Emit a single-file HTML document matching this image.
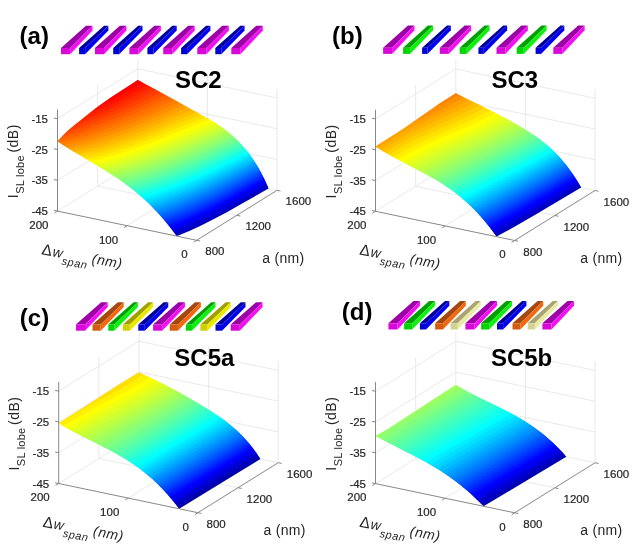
<!DOCTYPE html>
<html><head><meta charset="utf-8"><title>Sidelobe intensity surfaces</title>
<style>html,body{margin:0;padding:0;background:#fff;}svg{display:block;font-family:"Liberation Sans",Arial,sans-serif;}</style>
</head><body>
<svg width="639" height="552" viewBox="0 0 639 552">
<rect width="639" height="552" fill="#fff"/>
<line x1="57.50" y1="211.10" x2="137.80" y2="161.10" stroke="#e3e3e3" stroke-width="0.80"/>
<line x1="57.50" y1="180.32" x2="137.80" y2="130.32" stroke="#e3e3e3" stroke-width="0.80"/>
<line x1="57.50" y1="149.54" x2="137.80" y2="99.54" stroke="#e3e3e3" stroke-width="0.80"/>
<line x1="57.50" y1="118.76" x2="137.80" y2="68.76" stroke="#e3e3e3" stroke-width="0.80"/>
<line x1="97.65" y1="186.10" x2="97.65" y2="84.53" stroke="#e3e3e3" stroke-width="0.80"/>
<line x1="137.80" y1="161.10" x2="137.80" y2="59.53" stroke="#e3e3e3" stroke-width="0.80"/>
<line x1="137.80" y1="161.10" x2="277.00" y2="190.30" stroke="#e3e3e3" stroke-width="0.80"/>
<line x1="137.80" y1="130.32" x2="277.00" y2="159.52" stroke="#e3e3e3" stroke-width="0.80"/>
<line x1="137.80" y1="99.54" x2="277.00" y2="128.74" stroke="#e3e3e3" stroke-width="0.80"/>
<line x1="137.80" y1="68.76" x2="277.00" y2="97.96" stroke="#e3e3e3" stroke-width="0.80"/>
<line x1="207.40" y1="175.70" x2="207.40" y2="74.13" stroke="#e3e3e3" stroke-width="0.80"/>
<line x1="277.00" y1="190.30" x2="277.00" y2="88.73" stroke="#e3e3e3" stroke-width="0.80"/>
<line x1="127.10" y1="225.70" x2="207.40" y2="175.70" stroke="#e3e3e3" stroke-width="0.80"/>
<line x1="97.65" y1="186.10" x2="236.85" y2="215.30" stroke="#e3e3e3" stroke-width="0.80"/>
<path d="M177.1,236.0 176.8,236.1 175.0,233.7 184.4,230.0 193.2,226.1 202.6,221.8 212.0,217.1 232.8,205.9 267.5,186.2 268.5,188.5 242.1,203.6 227.3,212.0 212.9,219.6 200.2,226.0 188.7,231.3 177.1,236.0Z" fill="#0000af"/>
<path d="M176.2,235.3 173.7,231.9 182.6,228.4 192.0,224.4 201.5,220.0 211.3,215.2 221.5,209.8 233.1,203.6 266.8,184.6 268.2,187.9 235.2,206.7 216.9,216.8 201.8,224.4 194.2,228.0 186.7,231.3 176.3,235.5 176.2,235.3Z" fill="#0000bf"/>
<path d="M175.5,233.5 175.0,233.7 172.3,230.1 181.3,226.6 190.8,222.6 200.4,218.3 210.3,213.4 220.5,208.1 231.7,202.1 266.0,182.9 267.5,186.2 237.0,203.6 218.3,213.8 203.1,221.5 189.1,228.0 175.5,233.5Z" fill="#0000cf"/>
<path d="M173.9,231.8 173.7,231.9 170.9,228.3 180.0,224.8 189.1,221.1 199.0,216.6 209.4,211.6 219.9,206.2 230.8,200.4 265.3,181.2 266.8,184.6 234.2,203.0 216.7,212.4 201.5,220.0 187.4,226.4 173.9,231.8Z" fill="#0000df"/>
<path d="M172.4,230.0 172.3,230.1 169.5,226.5 179.0,222.9 188.5,219.0 198.5,214.6 208.6,209.7 219.0,204.4 231.2,198.0 264.5,179.6 266.0,182.9 232.2,201.9 215.1,211.0 199.9,218.5 186.1,224.6 172.4,230.0Z" fill="#0000ef"/>
<path d="M171.0,228.2 170.9,228.3 168.0,224.7 177.5,221.2 187.1,217.3 196.9,213.0 207.6,207.9 217.6,202.8 229.6,196.5 263.7,177.9 265.3,181.2 231.2,200.2 214.3,209.1 199.0,216.6 184.6,223.0 171.0,228.2Z" fill="#0000ff"/>
<path d="M169.7,226.4 169.5,226.5 166.6,222.8 175.9,219.4 185.3,215.7 195.2,211.4 205.5,206.6 216.8,201.0 228.3,195.0 262.8,176.2 264.5,179.6 230.3,198.4 213.0,207.5 197.6,215.0 183.6,221.1 169.7,226.4Z" fill="#0010ff"/>
<path d="M168.4,224.5 168.0,224.7 165.0,221.0 175.0,217.4 185.0,213.5 194.4,209.4 204.9,204.6 215.8,199.2 227.2,193.3 262.0,174.5 263.7,177.9 229.6,196.5 212.4,205.5 196.4,213.2 182.3,219.3 168.4,224.5Z" fill="#0020ff"/>
<path d="M166.4,222.7 163.5,219.2 173.6,215.6 183.6,211.7 193.9,207.3 204.6,202.4 215.6,197.0 226.3,191.4 261.1,172.8 262.8,176.2 228.3,195.0 216.4,201.2 205.3,206.7 194.2,211.9 183.8,216.3 171.9,220.9 166.6,222.8 166.4,222.7Z" fill="#0030ff"/>
<path d="M165.0,221.0 161.9,217.3 172.1,213.8 182.2,209.9 192.3,205.6 202.6,201.0 213.0,195.9 225.5,189.5 260.2,171.1 262.0,174.5 227.2,193.3 215.8,199.2 204.9,204.6 194.4,209.4 185.0,213.5 174.9,217.5 165.0,221.0Z" fill="#0040ff"/>
<path d="M163.9,219.0 163.5,219.2 160.2,215.4 170.5,211.9 181.1,207.9 190.9,203.8 202.1,198.8 212.8,193.6 224.9,187.6 259.2,169.4 261.1,172.8 226.3,191.4 215.6,197.0 204.6,202.4 193.9,207.3 183.6,211.7 173.7,215.6 163.9,219.0Z" fill="#0050ff"/>
<path d="M161.9,217.3 158.6,213.6 169.4,209.9 179.8,206.0 190.0,201.8 200.9,196.9 210.7,192.3 222.4,186.4 258.3,167.6 260.2,171.1 225.5,189.5 213.0,195.9 202.6,201.0 192.3,205.6 182.2,209.9 172.1,213.8 161.9,217.3Z" fill="#0060ff"/>
<path d="M160.2,215.4 156.8,211.7 167.5,208.1 177.8,204.3 188.4,200.0 199.5,195.2 210.6,189.9 222.5,184.0 257.3,165.9 259.2,169.4 223.0,188.5 211.3,194.4 201.1,199.3 190.4,204.1 179.6,208.5 168.1,212.8 160.2,215.4 160.2,215.4Z" fill="#0070ff"/>
<path d="M159.1,213.4 158.6,213.6 155.0,209.8 165.6,206.3 176.6,202.3 187.4,198.0 198.2,193.3 209.3,188.1 220.3,182.7 256.2,164.2 258.3,167.6 222.4,186.4 210.7,192.3 200.9,196.9 190.5,201.6 180.0,205.9 169.5,209.9 159.1,213.4Z" fill="#0080ff"/>
<path d="M157.4,211.5 156.8,211.7 153.2,207.9 163.9,204.4 175.0,200.4 186.0,196.1 196.9,191.3 207.9,186.3 219.0,180.9 255.1,162.4 257.3,165.9 222.5,184.0 210.6,189.9 199.5,195.2 188.5,200.0 178.2,204.2 167.9,208.0 157.4,211.5Z" fill="#008fff"/>
<path d="M154.9,209.7 151.3,206.0 162.3,202.5 173.2,198.6 184.4,194.2 194.9,189.7 205.0,185.2 217.1,179.4 254.0,160.7 256.2,164.2 220.3,182.7 208.8,188.3 197.9,193.4 186.5,198.4 175.5,202.7 163.1,207.2 155.0,209.8 154.9,209.7Z" fill="#009fff"/>
<path d="M153.2,207.9 149.4,204.1 160.8,200.4 171.5,196.7 182.5,192.4 193.8,187.7 204.0,183.1 216.2,177.3 252.8,158.9 255.1,162.4 219.0,180.9 207.9,186.3 196.9,191.3 186.0,196.1 175.0,200.4 163.9,204.4 153.2,207.9Z" fill="#00afff"/>
<path d="M151.7,205.9 151.3,206.0 147.3,202.1 158.8,198.5 170.0,194.7 180.8,190.5 191.9,185.9 203.4,180.8 214.9,175.4 251.6,157.2 254.0,160.7 218.1,178.9 206.5,184.5 195.4,189.5 184.4,194.2 173.2,198.6 162.6,202.4 151.7,205.9Z" fill="#00bfff"/>
<path d="M149.4,204.1 145.3,200.2 157.1,196.5 168.3,192.7 179.2,188.6 190.5,183.9 201.3,179.2 214.1,173.2 250.3,155.4 252.8,158.9 216.2,177.3 204.0,183.1 193.8,187.7 182.5,192.4 171.5,196.7 160.8,200.4 149.4,204.1Z" fill="#00cfff"/>
<path d="M147.3,202.1 143.1,198.2 154.8,194.6 166.2,190.8 177.8,186.5 188.7,182.0 199.2,177.5 211.8,171.7 249.0,153.6 251.6,157.2 214.9,175.4 203.4,180.8 191.9,185.9 180.4,190.7 169.1,195.0 157.4,199.0 147.3,202.1Z" fill="#00dfff"/>
<path d="M145.2,200.1 140.9,196.2 153.0,192.5 164.3,188.8 175.4,184.7 187.1,180.1 197.6,175.5 209.7,170.0 247.6,151.8 250.3,155.4 213.1,173.6 201.1,179.2 190.1,184.1 178.6,188.8 167.2,193.1 155.0,197.2 145.2,200.1Z" fill="#00efff"/>
<path d="M143.1,198.2 138.5,194.2 150.4,190.7 162.2,186.8 174.4,182.4 185.9,177.8 196.2,173.4 208.1,168.0 246.1,149.9 249.0,153.6 211.8,171.7 199.2,177.5 188.7,182.0 177.8,186.5 166.2,190.8 154.8,194.6 143.1,198.2Z" fill="#00ffff"/>
<path d="M141.3,196.1 140.9,196.2 136.1,192.2 148.7,188.5 160.3,184.7 172.3,180.4 183.6,176.0 195.1,171.2 206.6,166.0 244.5,148.1 247.6,151.8 209.7,170.0 197.8,175.4 187.4,179.9 175.4,184.7 164.3,188.8 153.0,192.5 141.3,196.1Z" fill="#10ffef"/>
<path d="M138.6,194.2 133.6,190.2 146.1,186.5 157.6,182.8 169.5,178.6 181.9,173.9 192.7,169.4 205.4,163.8 242.9,146.3 246.1,149.9 208.1,168.0 196.2,173.4 185.9,177.8 174.4,182.4 162.2,186.8 150.4,190.7 138.6,194.2Z" fill="#20ffdf"/>
<path d="M136.2,192.2 131.0,188.1 143.8,184.4 155.2,180.8 167.7,176.4 179.9,171.8 190.7,167.3 203.2,161.9 241.2,144.4 244.5,148.1 206.6,166.0 195.1,171.2 183.6,176.0 172.3,180.4 160.3,184.7 148.7,188.5 136.2,192.2Z" fill="#30ffcf"/>
<path d="M133.9,190.1 133.6,190.2 128.3,186.0 141.1,182.4 153.2,178.6 165.5,174.3 178.4,169.5 189.1,165.1 201.2,159.9 239.5,142.5 242.9,146.3 205.4,163.8 192.7,169.4 181.9,173.9 169.5,178.6 157.6,182.8 146.1,186.5 133.9,190.1Z" fill="#40ffbf"/>
<path d="M131.7,187.9 131.0,188.1 125.4,183.9 138.4,180.3 150.6,176.5 163.3,172.1 176.0,167.4 187.5,162.8 199.5,157.7 237.6,140.6 241.2,144.4 203.2,161.9 191.0,167.3 180.2,171.7 167.9,176.4 156.2,180.5 143.8,184.4 131.7,187.9Z" fill="#50ffaf"/>
<path d="M128.8,185.9 128.3,186.0 122.5,181.8 134.9,178.3 147.2,174.6 160.4,170.1 173.9,165.2 185.0,160.8 196.9,155.8 235.6,138.7 239.5,142.5 201.2,159.9 189.1,165.1 178.4,169.5 166.5,174.0 153.9,178.3 141.8,182.2 128.8,185.9Z" fill="#60ff9f"/>
<path d="M126.1,183.7 125.4,183.9 119.4,179.6 131.9,176.2 144.2,172.5 157.7,168.0 171.0,163.1 181.8,158.9 193.3,154.2 233.5,136.7 237.6,140.6 199.5,157.7 187.5,162.8 176.0,167.4 163.3,172.1 150.9,176.4 138.8,180.1 126.1,183.7Z" fill="#70ff8f"/>
<path d="M122.7,181.7 122.5,181.8 116.2,177.4 128.8,174.0 140.6,170.5 154.2,166.0 168.3,161.0 179.4,156.7 191.5,151.8 231.2,134.7 235.6,138.7 196.9,155.8 185.0,160.8 173.9,165.2 160.6,170.0 147.8,174.4 135.5,178.2 122.7,181.7Z" fill="#80ff80"/>
<path d="M119.5,179.6 119.4,179.6 112.8,175.2 124.8,172.0 136.7,168.5 150.4,164.0 165.1,158.8 175.8,154.8 187.6,150.1 228.8,132.7 233.5,136.7 193.3,154.2 181.8,158.9 171.0,163.1 157.7,168.0 144.2,172.5 131.9,176.2 119.5,179.6Z" fill="#8fff70"/>
<path d="M116.5,177.3 116.2,177.4 109.3,172.9 121.5,169.8 132.8,166.5 146.6,162.0 161.5,156.8 172.4,152.8 184.2,148.1 226.2,130.6 231.2,134.7 191.5,151.8 179.4,156.7 168.3,161.0 154.2,166.0 140.6,170.5 128.8,174.0 116.5,177.3Z" fill="#9fff60"/>
<path d="M112.9,175.2 105.7,170.7 117.3,167.8 128.1,164.7 141.3,160.4 157.6,154.8 167.9,151.0 179.1,146.6 223.4,128.5 228.8,132.7 187.6,150.1 175.8,154.8 165.1,158.8 150.4,164.0 136.7,168.5 124.8,172.0 112.9,175.2Z" fill="#afff50"/>
<path d="M109.4,172.9 101.9,168.4 113.0,165.7 123.9,162.6 136.6,158.6 152.9,153.0 163.3,149.2 174.0,145.0 220.3,126.4 226.2,130.6 184.2,148.1 172.4,152.8 161.5,156.8 146.6,162.0 132.8,166.5 121.5,169.8 109.4,172.9Z" fill="#bfff40"/>
<path d="M106.1,170.6 105.7,170.7 98.1,166.0 109.3,163.4 119.7,160.5 131.8,156.7 147.5,151.3 158.0,147.5 168.2,143.7 203.1,129.6 217.0,124.1 223.4,128.5 179.1,146.6 167.9,151.0 157.6,154.8 141.9,160.2 128.8,164.5 118.0,167.6 106.1,170.6Z" fill="#cfff30"/>
<path d="M102.2,168.3 101.9,168.4 94.1,163.7 105.5,161.1 116.0,158.3 128.1,154.4 143.8,149.1 161.7,142.4 197.7,127.9 213.4,121.9 220.3,126.4 174.0,145.0 163.3,149.2 152.9,153.0 136.6,158.6 123.9,162.6 113.7,165.5 102.2,168.3Z" fill="#dfff20"/>
<path d="M98.4,166.0 98.1,166.0 90.1,161.4 101.7,158.8 112.2,155.9 123.7,152.3 140.6,146.5 157.4,140.4 193.2,125.8 209.5,119.5 217.0,124.1 203.1,129.6 168.2,143.7 158.6,147.3 148.1,151.1 132.4,156.5 120.3,160.4 110.0,163.2 98.4,166.0Z" fill="#efff10"/>
<path d="M94.7,163.6 94.1,163.7 86.1,159.0 97.8,156.4 108.3,153.6 119.8,150.0 138.0,143.8 154.6,137.6 189.7,123.2 205.3,117.2 213.4,121.9 197.7,127.9 162.3,142.2 144.4,148.8 128.1,154.4 116.0,158.3 105.5,161.1 94.7,163.6Z" fill="#ffff00"/>
<path d="M90.3,161.3 82.1,156.6 93.9,154.1 104.5,151.3 115.9,147.7 135.9,140.8 144.1,137.9 152.4,134.6 186.1,120.6 201.0,114.7 209.5,119.5 193.2,125.8 157.4,140.4 140.6,146.5 123.7,152.3 112.2,155.9 101.7,158.8 90.3,161.3Z" fill="#ffef00"/>
<path d="M86.6,158.9 86.1,159.0 78.2,154.3 90.0,151.8 100.6,149.0 112.0,145.4 133.8,137.9 141.9,134.9 150.7,131.4 182.5,118.0 196.7,112.3 205.3,117.2 189.7,123.2 154.6,137.6 138.6,143.6 120.5,149.8 108.3,153.6 97.8,156.4 86.6,158.9Z" fill="#ffdf00"/>
<path d="M82.3,156.6 74.3,152.0 86.9,149.3 96.7,146.6 107.5,143.2 131.0,135.1 138.5,132.3 148.3,128.4 178.2,115.6 192.3,109.9 201.0,114.7 186.1,120.6 152.4,134.6 144.1,137.9 135.9,140.8 115.9,147.7 104.5,151.3 93.9,154.1 82.3,156.6Z" fill="#ffcf00"/>
<path d="M78.6,154.2 78.2,154.3 70.6,149.7 83.1,147.0 92.9,144.3 103.0,141.1 128.2,132.3 135.6,129.6 145.4,125.6 174.0,113.2 187.9,107.4 196.7,112.3 182.5,118.0 150.7,131.4 141.9,134.9 133.8,137.9 112.6,145.1 101.3,148.8 90.7,151.6 78.6,154.2Z" fill="#ffbf00"/>
<path d="M74.8,151.9 74.3,152.0 66.9,147.4 79.4,144.7 89.1,142.0 98.5,139.0 125.4,129.6 131.7,127.2 142.4,122.8 169.7,110.8 183.5,105.0 192.3,109.9 178.2,115.6 148.3,128.4 138.5,132.3 131.0,135.1 108.1,143.0 97.4,146.5 86.9,149.3 74.8,151.9Z" fill="#ffaf00"/>
<path d="M70.9,149.6 70.6,149.7 63.4,145.1 75.8,142.4 85.5,139.7 93.5,137.1 122.6,126.8 128.8,124.4 139.4,120.0 165.4,108.4 179.1,102.6 187.9,107.4 174.0,113.2 145.9,125.4 135.6,129.6 128.8,132.1 103.6,140.9 93.6,144.1 83.1,147.0 70.9,149.6Z" fill="#ff9f00"/>
<path d="M67.6,147.2 66.9,147.4 60.0,142.9 72.3,140.1 81.9,137.5 88.6,135.2 119.3,124.3 125.9,121.6 136.5,117.2 161.2,106.0 174.6,100.1 183.5,105.0 169.7,110.8 142.9,122.6 132.2,127.0 126.0,129.4 98.5,139.0 89.1,142.0 79.4,144.7 67.6,147.2Z" fill="#ff8f00"/>
<path d="M64.2,145.0 63.4,145.1 57.5,141.2 58.3,140.4 69.7,137.7 78.4,135.2 116.6,121.5 133.0,114.6 156.9,103.6 170.2,97.7 179.1,102.6 165.4,108.4 139.4,120.0 128.8,124.4 122.6,126.8 93.5,137.1 85.5,139.7 75.8,142.4 64.2,145.0Z" fill="#ff8000"/>
<path d="M60.6,142.8 60.0,142.9 57.5,141.2 61.7,136.7 69.9,134.6 76.9,132.4 95.2,125.5 114.4,118.5 130.0,111.8 152.6,101.1 165.7,95.2 174.6,100.1 161.2,106.0 136.5,117.2 125.9,121.6 119.3,124.3 88.6,135.2 81.9,137.5 72.3,140.1 60.6,142.8Z" fill="#ff7000"/>
<path d="M58.3,140.4 65.7,132.7 70.6,131.2 75.4,129.6 91.6,123.3 105.6,118.2 111.8,115.8 127.1,109.0 148.3,98.7 161.2,92.7 170.2,97.7 156.9,103.6 133.0,114.6 116.6,121.5 78.4,135.2 69.7,137.7 58.3,140.4Z" fill="#ff6000"/>
<path d="M61.7,136.7 66.7,131.8 71.3,127.7 88.1,121.0 103.2,115.5 109.7,112.8 123.7,106.4 144.0,96.3 156.7,90.3 165.7,95.2 152.6,101.1 130.0,111.8 114.4,118.5 95.2,125.5 76.9,132.4 69.9,134.6 61.7,136.7Z" fill="#ff5000"/>
<path d="M65.7,132.7 71.6,127.5 80.2,120.7 86.4,118.2 101.3,112.6 109.6,109.0 120.8,103.6 139.3,94.1 152.2,87.8 161.2,92.7 148.3,98.7 127.1,109.0 111.8,115.8 105.6,118.2 91.6,123.3 75.4,129.6 70.6,131.2 65.7,132.7Z" fill="#ff4000"/>
<path d="M71.3,127.7 88.8,113.8 100.0,109.5 110.9,104.4 118.5,100.6 135.1,91.7 147.6,85.4 156.7,90.3 144.0,96.3 123.7,106.4 109.7,112.8 103.2,115.5 88.1,121.0 71.3,127.7Z" fill="#ff3000"/>
<path d="M80.2,120.7 97.5,106.9 105.5,103.1 112.9,99.3 131.4,89.1 143.1,82.9 152.2,87.8 139.3,94.1 120.8,103.6 109.6,109.0 101.3,112.6 86.4,118.2 80.2,120.7Z" fill="#ff2000"/>
<path d="M88.8,113.8 97.7,106.8 110.5,97.7 129.1,85.7 138.6,80.4 147.6,85.4 135.1,91.7 118.5,100.6 110.9,104.4 100.0,109.5 88.8,113.8Z" fill="#ff1000"/>
<path d="M97.5,106.9 111.3,97.2 137.8,80.0 143.1,82.9 131.4,89.1 112.9,99.3 105.5,103.1 97.5,106.9Z" fill="#ff0000"/>
<path d="M129.1,85.7 137.8,80.0 138.6,80.4 129.1,85.7Z" fill="#ef0000"/>
<line x1="57.50" y1="211.10" x2="57.50" y2="109.53" stroke="#7a7a7a" stroke-width="0.90"/>
<line x1="57.50" y1="211.10" x2="196.70" y2="240.30" stroke="#7a7a7a" stroke-width="0.90"/>
<line x1="196.70" y1="240.30" x2="277.00" y2="190.30" stroke="#7a7a7a" stroke-width="0.90"/>
<line x1="57.50" y1="211.10" x2="53.98" y2="210.36" stroke="#7a7a7a" stroke-width="0.90"/>
<line x1="57.50" y1="180.32" x2="53.98" y2="179.58" stroke="#7a7a7a" stroke-width="0.90"/>
<line x1="57.50" y1="149.54" x2="53.98" y2="148.80" stroke="#7a7a7a" stroke-width="0.90"/>
<line x1="57.50" y1="118.76" x2="53.98" y2="118.02" stroke="#7a7a7a" stroke-width="0.90"/>
<line x1="57.50" y1="211.10" x2="54.44" y2="213.00" stroke="#7a7a7a" stroke-width="0.90"/>
<line x1="127.10" y1="225.70" x2="124.04" y2="227.60" stroke="#7a7a7a" stroke-width="0.90"/>
<line x1="196.70" y1="240.30" x2="193.64" y2="242.20" stroke="#7a7a7a" stroke-width="0.90"/>
<line x1="196.70" y1="240.30" x2="200.22" y2="241.04" stroke="#7a7a7a" stroke-width="0.90"/>
<line x1="236.85" y1="215.30" x2="240.37" y2="216.04" stroke="#7a7a7a" stroke-width="0.90"/>
<line x1="277.00" y1="190.30" x2="280.52" y2="191.04" stroke="#7a7a7a" stroke-width="0.90"/>
<g fill="#262626"><text x="48.0" y="215.2" font-size="11.5" text-anchor="end" font-weight="normal" stroke="#262626" stroke-width="0.2">-45</text>
<text x="48.0" y="184.4" font-size="11.5" text-anchor="end" font-weight="normal" stroke="#262626" stroke-width="0.2">-35</text>
<text x="48.0" y="153.7" font-size="11.5" text-anchor="end" font-weight="normal" stroke="#262626" stroke-width="0.2">-25</text>
<text x="48.0" y="122.9" font-size="11.5" text-anchor="end" font-weight="normal" stroke="#262626" stroke-width="0.2">-15</text>
<text x="48.5" y="228.9" font-size="11.5" text-anchor="end" font-weight="normal" stroke="#262626" stroke-width="0.2">200</text>
<text x="118.1" y="243.5" font-size="11.5" text-anchor="end" font-weight="normal" stroke="#262626" stroke-width="0.2">100</text>
<text x="187.7" y="258.1" font-size="11.5" text-anchor="end" font-weight="normal" stroke="#262626" stroke-width="0.2">0</text>
<text x="205.3" y="255.4" font-size="11.5" text-anchor="start" font-weight="normal" stroke="#262626" stroke-width="0.2">800</text>
<text x="245.4" y="230.4" font-size="11.5" text-anchor="start" font-weight="normal" stroke="#262626" stroke-width="0.2">1200</text>
<text x="285.6" y="205.4" font-size="11.5" text-anchor="start" font-weight="normal" stroke="#262626" stroke-width="0.2">1600</text>
<text x="262.3" y="262.8" font-size="14.0" text-anchor="start" font-weight="normal" letter-spacing="0.3">a (nm)</text>
<text transform="translate(17.6,198.2) rotate(-90)" font-size="14.0" letter-spacing="0.5">I<tspan font-size="11.0" dy="6.6" letter-spacing="0.25">SL lobe</tspan><tspan dy="-6.6" dx="-1.8"> (dB)</tspan></text>
<text transform="translate(41.0,254.3) rotate(10)" font-size="14.0" font-style="italic" letter-spacing="0.5"><tspan font-style="normal" font-size="15.5">&#916;</tspan><tspan dx="0.2">w</tspan><tspan font-size="11.0" dy="6.5">span</tspan><tspan dy="-6.5" dx="-0.8"> (nm)</tspan></text></g>
<text x="19.6" y="44.0" font-size="24.0" text-anchor="start" font-weight="bold" fill="#000">(a)</text>
<text x="175.0" y="88.0" font-size="24.0" text-anchor="start" font-weight="bold" fill="#000">SC2</text>
<polygon points="61.00,48.00 70.10,48.00 92.50,25.80 85.95,25.80" fill="#9c00a6"/>
<polygon points="70.10,48.00 92.50,25.80 92.50,30.50 70.10,54.20" fill="#f010f0"/>
<polygon points="61.00,48.00 70.10,48.00 70.10,54.20 61.00,54.20" fill="#d808d8"/>
<polygon points="79.10,48.00 85.10,48.00 108.37,25.80 104.05,25.80" fill="#00009c"/>
<polygon points="85.10,48.00 108.37,25.80 108.37,30.50 85.10,54.20" fill="#0000f0"/>
<polygon points="79.10,48.00 85.10,48.00 85.10,54.20 79.10,54.20" fill="#0000d2"/>
<polygon points="94.90,48.00 104.00,48.00 126.40,25.80 119.85,25.80" fill="#9c00a6"/>
<polygon points="104.00,48.00 126.40,25.80 126.40,30.50 104.00,54.20" fill="#f010f0"/>
<polygon points="94.90,48.00 104.00,48.00 104.00,54.20 94.90,54.20" fill="#d808d8"/>
<polygon points="113.20,48.00 119.20,48.00 142.47,25.80 138.15,25.80" fill="#00009c"/>
<polygon points="119.20,48.00 142.47,25.80 142.47,30.50 119.20,54.20" fill="#0000f0"/>
<polygon points="113.20,48.00 119.20,48.00 119.20,54.20 113.20,54.20" fill="#0000d2"/>
<polygon points="129.40,48.00 138.50,48.00 160.90,25.80 154.35,25.80" fill="#9c00a6"/>
<polygon points="138.50,48.00 160.90,25.80 160.90,30.50 138.50,54.20" fill="#f010f0"/>
<polygon points="129.40,48.00 138.50,48.00 138.50,54.20 129.40,54.20" fill="#d808d8"/>
<polygon points="147.40,48.00 153.40,48.00 176.67,25.80 172.35,25.80" fill="#00009c"/>
<polygon points="153.40,48.00 176.67,25.80 176.67,30.50 153.40,54.20" fill="#0000f0"/>
<polygon points="147.40,48.00 153.40,48.00 153.40,54.20 147.40,54.20" fill="#0000d2"/>
<polygon points="163.20,48.00 172.30,48.00 194.70,25.80 188.15,25.80" fill="#9c00a6"/>
<polygon points="172.30,48.00 194.70,25.80 194.70,30.50 172.30,54.20" fill="#f010f0"/>
<polygon points="163.20,48.00 172.30,48.00 172.30,54.20 163.20,54.20" fill="#d808d8"/>
<polygon points="181.10,48.00 187.10,48.00 210.37,25.80 206.05,25.80" fill="#00009c"/>
<polygon points="187.10,48.00 210.37,25.80 210.37,30.50 187.10,54.20" fill="#0000f0"/>
<polygon points="181.10,48.00 187.10,48.00 187.10,54.20 181.10,54.20" fill="#0000d2"/>
<polygon points="197.30,48.00 206.40,48.00 228.80,25.80 222.25,25.80" fill="#9c00a6"/>
<polygon points="206.40,48.00 228.80,25.80 228.80,30.50 206.40,54.20" fill="#f010f0"/>
<polygon points="197.30,48.00 206.40,48.00 206.40,54.20 197.30,54.20" fill="#d808d8"/>
<polygon points="215.30,48.00 221.30,48.00 244.57,25.80 240.25,25.80" fill="#00009c"/>
<polygon points="221.30,48.00 244.57,25.80 244.57,30.50 221.30,54.20" fill="#0000f0"/>
<polygon points="215.30,48.00 221.30,48.00 221.30,54.20 215.30,54.20" fill="#0000d2"/>
<polygon points="231.30,48.00 240.40,48.00 262.80,25.80 256.25,25.80" fill="#9c00a6"/>
<polygon points="240.40,48.00 262.80,25.80 262.80,30.50 240.40,54.20" fill="#f010f0"/>
<polygon points="231.30,48.00 240.40,48.00 240.40,54.20 231.30,54.20" fill="#d808d8"/>
<line x1="375.50" y1="211.30" x2="455.80" y2="161.30" stroke="#e3e3e3" stroke-width="0.80"/>
<line x1="375.50" y1="180.52" x2="455.80" y2="130.52" stroke="#e3e3e3" stroke-width="0.80"/>
<line x1="375.50" y1="149.74" x2="455.80" y2="99.74" stroke="#e3e3e3" stroke-width="0.80"/>
<line x1="375.50" y1="118.96" x2="455.80" y2="68.96" stroke="#e3e3e3" stroke-width="0.80"/>
<line x1="415.65" y1="186.30" x2="415.65" y2="84.73" stroke="#e3e3e3" stroke-width="0.80"/>
<line x1="455.80" y1="161.30" x2="455.80" y2="59.73" stroke="#e3e3e3" stroke-width="0.80"/>
<line x1="455.80" y1="161.30" x2="595.00" y2="190.50" stroke="#e3e3e3" stroke-width="0.80"/>
<line x1="455.80" y1="130.52" x2="595.00" y2="159.72" stroke="#e3e3e3" stroke-width="0.80"/>
<line x1="455.80" y1="99.74" x2="595.00" y2="128.94" stroke="#e3e3e3" stroke-width="0.80"/>
<line x1="455.80" y1="68.96" x2="595.00" y2="98.16" stroke="#e3e3e3" stroke-width="0.80"/>
<line x1="525.40" y1="175.90" x2="525.40" y2="74.33" stroke="#e3e3e3" stroke-width="0.80"/>
<line x1="595.00" y1="190.50" x2="595.00" y2="88.93" stroke="#e3e3e3" stroke-width="0.80"/>
<line x1="445.10" y1="225.90" x2="525.40" y2="175.90" stroke="#e3e3e3" stroke-width="0.80"/>
<line x1="415.65" y1="186.30" x2="554.85" y2="215.50" stroke="#e3e3e3" stroke-width="0.80"/>
<path d="M496.6,236.6 494.9,234.3 514.5,223.3 535.5,211.3 579.8,185.2 581.1,187.6 534.0,215.5 510.1,229.2 496.6,236.6Z" fill="#0000af"/>
<path d="M495.9,235.6 493.7,232.5 513.9,221.2 534.7,209.4 578.7,183.5 580.8,187.0 550.0,205.2 522.5,221.2 496.2,236.1 495.9,235.6Z" fill="#0000bf"/>
<path d="M494.9,234.2 492.3,230.7 511.5,220.0 533.5,207.6 577.7,181.8 579.8,185.2 555.2,199.8 531.6,213.6 505.4,228.5 494.9,234.3 494.9,234.2Z" fill="#0000cf"/>
<path d="M493.5,232.3 491.0,228.9 511.1,217.8 532.9,205.5 554.4,193.1 576.6,180.0 578.7,183.5 551.6,199.5 526.5,214.0 493.7,232.5 493.5,232.3Z" fill="#0000df"/>
<path d="M492.1,230.4 489.6,227.1 510.2,215.7 531.9,203.6 552.8,191.6 575.5,178.3 577.7,181.8 550.6,197.7 523.6,213.2 492.3,230.7 492.1,230.4Z" fill="#0000ef"/>
<path d="M490.7,228.5 488.2,225.3 508.5,214.2 531.4,201.3 553.7,188.6 574.3,176.5 576.6,180.0 549.3,196.0 522.3,211.5 491.0,228.9 490.7,228.5Z" fill="#0000ff"/>
<path d="M489.3,226.7 486.7,223.5 507.1,212.4 529.7,199.8 551.2,187.5 573.2,174.8 575.5,178.3 546.8,195.0 520.7,209.9 489.6,227.1 489.3,226.7Z" fill="#0010ff"/>
<path d="M487.9,225.0 485.2,221.6 506.1,210.3 530.1,197.0 552.1,184.5 572.0,173.0 574.3,176.5 548.1,191.8 521.8,206.8 488.2,225.3 487.9,225.0Z" fill="#0020ff"/>
<path d="M486.5,223.3 483.6,219.8 505.5,208.0 530.0,194.5 550.3,183.0 570.7,171.2 573.2,174.8 549.9,188.3 524.3,202.8 491.9,220.7 486.7,223.5 486.5,223.3Z" fill="#0030ff"/>
<path d="M485.1,221.6 482.0,218.0 501.8,207.4 529.0,192.5 549.9,180.7 569.4,169.4 572.0,173.0 550.4,185.5 527.0,198.7 499.0,214.2 485.2,221.6 485.1,221.6Z" fill="#0040ff"/>
<path d="M483.4,219.5 480.4,216.1 501.9,204.6 528.4,190.1 548.9,178.7 568.1,167.6 570.7,171.2 546.9,185.0 521.4,199.3 483.6,219.8 483.4,219.5Z" fill="#0050ff"/>
<path d="M482.0,217.9 478.7,214.2 499.2,203.3 527.4,188.0 547.9,176.6 566.7,165.8 569.4,169.4 548.0,181.8 525.6,194.3 498.1,209.4 482.0,217.9Z" fill="#0060ff"/>
<path d="M480.2,215.9 477.0,212.3 497.0,201.8 525.4,186.4 546.0,175.0 565.3,164.0 568.1,167.6 546.6,180.0 522.8,193.2 488.5,211.8 480.4,216.1 480.2,215.9Z" fill="#0070ff"/>
<path d="M478.5,214.0 475.1,210.4 495.3,199.8 525.7,183.5 545.7,172.5 563.8,162.2 566.7,165.8 545.7,177.8 520.5,191.8 483.7,211.6 478.7,214.2 478.5,214.0Z" fill="#0080ff"/>
<path d="M476.8,212.1 473.3,208.5 523.9,181.7 543.7,170.8 562.3,160.4 565.3,164.0 545.1,175.5 521.0,188.8 484.3,208.5 477.0,212.3 476.8,212.1Z" fill="#008fff"/>
<path d="M475.0,210.3 471.3,206.6 523.9,178.9 542.9,168.5 560.7,158.5 563.8,162.2 544.4,173.2 522.0,185.5 487.9,203.8 475.1,210.4 475.0,210.3Z" fill="#009fff"/>
<path d="M473.5,208.4 473.3,208.5 469.3,204.7 523.4,176.3 542.1,166.1 559.0,156.6 562.3,160.4 543.7,170.8 523.9,181.7 473.5,208.4Z" fill="#00afff"/>
<path d="M471.2,206.5 467.2,202.7 522.0,174.1 540.2,164.2 557.2,154.8 560.7,158.5 542.0,169.0 521.9,179.9 484.6,199.7 471.3,206.6 471.2,206.5Z" fill="#00bfff"/>
<path d="M469.1,204.5 465.0,200.7 521.0,171.6 537.9,162.6 555.4,152.9 559.0,156.6 539.9,167.3 518.0,179.1 476.2,201.1 469.3,204.7 469.1,204.5Z" fill="#00cfff"/>
<path d="M467.0,202.6 462.7,198.7 520.1,169.0 536.8,160.1 553.4,150.9 557.2,154.8 538.9,165.0 519.3,175.5 476.9,197.7 467.2,202.7 467.0,202.6Z" fill="#00dfff"/>
<path d="M464.9,200.7 460.2,196.7 519.3,166.3 535.1,157.9 551.4,149.0 555.4,152.9 537.9,162.6 521.0,171.6 464.9,200.7Z" fill="#00efff"/>
<path d="M462.5,198.6 457.7,194.7 517.5,164.1 532.5,156.2 549.2,147.0 553.4,150.9 536.3,160.4 518.3,170.0 469.4,195.3 462.7,198.7 462.5,198.6Z" fill="#00ffff"/>
<path d="M460.1,196.6 455.0,192.6 520.4,159.3 531.9,153.2 546.9,145.0 551.4,149.0 534.7,158.2 517.5,167.3 461.6,196.0 460.2,196.7 460.1,196.6Z" fill="#10ffef"/>
<path d="M457.6,194.6 452.2,190.5 481.8,175.3 518.9,156.7 529.4,151.2 544.5,143.0 549.2,147.0 532.5,156.2 517.2,164.2 457.6,194.6Z" fill="#20ffdf"/>
<path d="M454.8,192.5 449.2,188.3 478.9,173.2 518.2,153.6 541.9,140.9 546.9,145.0 530.5,154.0 514.9,162.1 455.0,192.6 454.8,192.5Z" fill="#30ffcf"/>
<path d="M452.1,190.4 446.0,186.2 476.2,170.8 499.5,159.4 516.5,150.8 539.1,138.8 544.5,143.0 529.4,151.2 518.8,156.7 481.8,175.3 452.2,190.5 452.1,190.4Z" fill="#40ffbf"/>
<path d="M448.9,188.2 442.6,183.9 469.5,170.2 513.4,148.7 523.4,143.5 536.1,136.7 541.9,140.9 526.7,149.1 515.6,154.9 479.3,172.9 449.2,188.3 448.9,188.2Z" fill="#50ffaf"/>
<path d="M445.8,186.0 438.9,181.6 466.9,167.5 510.6,146.2 521.1,140.8 532.9,134.5 539.1,138.8 525.2,146.3 515.6,151.3 476.2,170.8 446.0,186.2 445.8,186.0Z" fill="#60ff9f"/>
<path d="M442.3,183.8 435.1,179.3 463.5,164.9 507.1,144.0 517.3,138.8 529.5,132.3 536.1,136.7 523.1,143.7 512.7,149.0 472.8,168.5 442.6,183.9 442.3,183.8Z" fill="#70ff8f"/>
<path d="M438.8,181.6 431.0,176.9 459.0,162.8 487.0,149.6 503.4,141.7 513.2,136.7 525.8,130.0 532.9,134.5 511.1,146.0 493.0,154.9 469.7,166.0 440.6,180.8 438.9,181.6 438.8,181.6Z" fill="#80ff80"/>
<path d="M435.0,179.3 426.6,174.5 454.7,160.4 483.1,147.2 499.6,139.4 509.4,134.4 522.0,127.7 529.5,132.3 508.6,143.3 490.0,152.3 465.4,164.0 435.0,179.3Z" fill="#8fff70"/>
<path d="M430.8,176.9 421.9,172.0 450.6,157.7 479.2,144.6 495.5,137.0 505.8,131.8 518.0,125.3 525.8,130.0 515.1,135.8 504.7,141.1 486.1,150.0 461.9,161.4 432.5,176.2 431.0,176.9 430.8,176.9Z" fill="#9fff60"/>
<path d="M426.3,174.4 417.1,169.5 446.3,154.9 474.4,142.3 491.7,134.3 502.1,129.2 513.8,122.9 522.0,127.7 510.8,133.7 500.5,138.9 482.0,147.7 457.6,159.0 426.6,174.5 426.3,174.4Z" fill="#afff50"/>
<path d="M421.8,171.9 412.2,166.9 441.3,152.3 470.5,139.5 487.2,131.9 497.2,127.0 509.4,120.5 518.0,125.3 507.2,131.1 496.9,136.3 478.8,144.8 452.6,156.7 421.9,172.0 421.8,171.9Z" fill="#bfff40"/>
<path d="M416.9,169.4 407.2,164.4 436.6,149.5 465.8,136.9 483.0,129.2 493.5,124.0 504.9,118.0 513.8,122.9 503.5,128.4 493.2,133.6 474.4,142.3 448.3,154.0 417.1,169.5 416.9,169.4Z" fill="#cfff30"/>
<path d="M412.0,166.9 402.2,161.8 431.9,146.7 461.8,133.9 478.7,126.4 489.2,121.2 500.1,115.5 509.4,120.5 499.5,125.8 489.2,131.0 470.5,139.5 442.8,151.6 412.2,166.9 412.0,166.9Z" fill="#dfff20"/>
<path d="M407.2,164.3 397.4,159.3 427.2,143.8 457.7,130.8 474.2,123.6 484.7,118.5 495.2,113.0 504.9,118.0 493.5,124.0 483.0,129.2 465.8,136.9 437.1,149.3 407.2,164.3Z" fill="#efff10"/>
<path d="M401.9,161.7 392.8,156.8 415.7,144.6 423.1,140.8 469.6,120.8 480.1,115.6 490.1,110.4 500.1,115.5 489.2,121.2 478.7,126.4 461.8,133.9 432.4,146.4 402.2,161.8 401.9,161.7Z" fill="#ffff00"/>
<path d="M397.5,159.3 388.5,154.4 411.3,141.8 418.7,138.0 464.9,117.9 475.8,112.6 484.9,107.8 495.2,113.0 484.7,118.5 474.2,123.6 457.7,130.8 427.2,143.8 397.5,159.3Z" fill="#ffef00"/>
<path d="M392.6,156.7 384.4,152.0 407.2,139.1 414.9,135.0 460.2,115.1 471.0,109.7 479.6,105.1 490.1,110.4 480.1,115.6 469.6,120.8 422.6,141.0 415.7,144.6 392.8,156.8 392.6,156.7Z" fill="#ffdf00"/>
<path d="M388.4,154.3 380.6,149.7 403.8,136.2 411.5,132.1 455.5,112.3 466.2,106.8 474.2,102.5 484.9,107.8 475.8,112.6 464.9,117.9 418.2,138.2 411.8,141.6 388.5,154.4 388.4,154.3Z" fill="#ffcf00"/>
<path d="M384.2,151.9 377.0,147.4 400.1,133.6 407.7,129.5 450.9,109.5 461.5,104.0 468.8,99.9 479.6,105.1 471.0,109.7 460.2,115.1 414.0,135.5 406.8,139.3 384.4,152.0 384.2,151.9Z" fill="#ffbf00"/>
<path d="M380.4,149.6 375.5,146.5 400.4,130.7 410.4,123.9 446.0,106.9 456.3,101.4 463.5,97.2 474.2,102.5 466.2,106.8 455.5,112.3 415.9,130.0 409.5,133.1 402.5,136.9 380.6,149.7 380.4,149.6Z" fill="#ffaf00"/>
<path d="M376.9,147.4 375.5,146.5 402.0,129.7 431.8,109.1 443.5,103.2 452.6,98.1 458.3,94.6 468.8,99.9 461.5,104.0 450.9,109.5 423.0,122.3 405.4,130.7 399.7,133.8 377.0,147.4 376.9,147.4Z" fill="#ff9f00"/>
<path d="M410.4,123.9 438.9,104.1 455.8,93.3 463.5,97.2 456.3,101.4 446.0,106.9 410.4,123.9Z" fill="#ff8f00"/>
<path d="M431.8,109.1 441.7,102.3 455.8,93.3 458.3,94.6 452.6,98.1 443.5,103.2 431.8,109.1Z" fill="#ff8000"/>
<line x1="375.50" y1="211.30" x2="375.50" y2="109.73" stroke="#7a7a7a" stroke-width="0.90"/>
<line x1="375.50" y1="211.30" x2="514.70" y2="240.50" stroke="#7a7a7a" stroke-width="0.90"/>
<line x1="514.70" y1="240.50" x2="595.00" y2="190.50" stroke="#7a7a7a" stroke-width="0.90"/>
<line x1="375.50" y1="211.30" x2="371.98" y2="210.56" stroke="#7a7a7a" stroke-width="0.90"/>
<line x1="375.50" y1="180.52" x2="371.98" y2="179.78" stroke="#7a7a7a" stroke-width="0.90"/>
<line x1="375.50" y1="149.74" x2="371.98" y2="149.00" stroke="#7a7a7a" stroke-width="0.90"/>
<line x1="375.50" y1="118.96" x2="371.98" y2="118.22" stroke="#7a7a7a" stroke-width="0.90"/>
<line x1="375.50" y1="211.30" x2="372.44" y2="213.20" stroke="#7a7a7a" stroke-width="0.90"/>
<line x1="445.10" y1="225.90" x2="442.04" y2="227.80" stroke="#7a7a7a" stroke-width="0.90"/>
<line x1="514.70" y1="240.50" x2="511.64" y2="242.40" stroke="#7a7a7a" stroke-width="0.90"/>
<line x1="514.70" y1="240.50" x2="518.22" y2="241.24" stroke="#7a7a7a" stroke-width="0.90"/>
<line x1="554.85" y1="215.50" x2="558.37" y2="216.24" stroke="#7a7a7a" stroke-width="0.90"/>
<line x1="595.00" y1="190.50" x2="598.52" y2="191.24" stroke="#7a7a7a" stroke-width="0.90"/>
<g fill="#262626"><text x="366.0" y="215.4" font-size="11.5" text-anchor="end" font-weight="normal" stroke="#262626" stroke-width="0.2">-45</text>
<text x="366.0" y="184.6" font-size="11.5" text-anchor="end" font-weight="normal" stroke="#262626" stroke-width="0.2">-35</text>
<text x="366.0" y="153.9" font-size="11.5" text-anchor="end" font-weight="normal" stroke="#262626" stroke-width="0.2">-25</text>
<text x="366.0" y="123.1" font-size="11.5" text-anchor="end" font-weight="normal" stroke="#262626" stroke-width="0.2">-15</text>
<text x="366.5" y="229.1" font-size="11.5" text-anchor="end" font-weight="normal" stroke="#262626" stroke-width="0.2">200</text>
<text x="436.1" y="243.7" font-size="11.5" text-anchor="end" font-weight="normal" stroke="#262626" stroke-width="0.2">100</text>
<text x="505.7" y="258.3" font-size="11.5" text-anchor="end" font-weight="normal" stroke="#262626" stroke-width="0.2">0</text>
<text x="523.3" y="255.6" font-size="11.5" text-anchor="start" font-weight="normal" stroke="#262626" stroke-width="0.2">800</text>
<text x="563.5" y="230.6" font-size="11.5" text-anchor="start" font-weight="normal" stroke="#262626" stroke-width="0.2">1200</text>
<text x="603.6" y="205.6" font-size="11.5" text-anchor="start" font-weight="normal" stroke="#262626" stroke-width="0.2">1600</text>
<text x="580.3" y="263.0" font-size="14.0" text-anchor="start" font-weight="normal" letter-spacing="0.3">a (nm)</text>
<text transform="translate(335.6,198.4) rotate(-90)" font-size="14.0" letter-spacing="0.5">I<tspan font-size="11.0" dy="6.6" letter-spacing="0.25">SL lobe</tspan><tspan dy="-6.6" dx="-1.8"> (dB)</tspan></text>
<text transform="translate(359.0,254.5) rotate(10)" font-size="14.0" font-style="italic" letter-spacing="0.5"><tspan font-style="normal" font-size="15.5">&#916;</tspan><tspan dx="0.2">w</tspan><tspan font-size="11.0" dy="6.5">span</tspan><tspan dy="-6.5" dx="-0.8"> (nm)</tspan></text></g>
<text x="332.0" y="43.5" font-size="24.0" text-anchor="start" font-weight="bold" fill="#000">(b)</text>
<text x="491.5" y="88.0" font-size="24.0" text-anchor="start" font-weight="bold" fill="#000">SC3</text>
<polygon points="383.10,47.70 392.10,47.70 414.43,25.50 407.95,25.50" fill="#9c00a6"/>
<polygon points="392.10,47.70 414.43,25.50 414.43,30.20 392.10,53.90" fill="#f010f0"/>
<polygon points="383.10,47.70 392.10,47.70 392.10,53.90 383.10,53.90" fill="#d808d8"/>
<polygon points="403.10,47.70 410.10,47.70 432.99,25.50 427.95,25.50" fill="#00a000"/>
<polygon points="410.10,47.70 432.99,25.50 432.99,30.20 410.10,53.90" fill="#10f010"/>
<polygon points="403.10,47.70 410.10,47.70 410.10,53.90 403.10,53.90" fill="#00d400"/>
<polygon points="422.10,47.70 427.50,47.70 450.84,25.50 446.95,25.50" fill="#00009c"/>
<polygon points="427.50,47.70 450.84,25.50 450.84,30.20 427.50,53.90" fill="#0000f0"/>
<polygon points="422.10,47.70 427.50,47.70 427.50,53.90 422.10,53.90" fill="#0000d2"/>
<polygon points="439.80,47.70 448.80,47.70 471.13,25.50 464.65,25.50" fill="#9c00a6"/>
<polygon points="448.80,47.70 471.13,25.50 471.13,30.20 448.80,53.90" fill="#f010f0"/>
<polygon points="439.80,47.70 448.80,47.70 448.80,53.90 439.80,53.90" fill="#d808d8"/>
<polygon points="459.70,47.70 466.70,47.70 489.59,25.50 484.55,25.50" fill="#00a000"/>
<polygon points="466.70,47.70 489.59,25.50 489.59,30.20 466.70,53.90" fill="#10f010"/>
<polygon points="459.70,47.70 466.70,47.70 466.70,53.90 459.70,53.90" fill="#00d400"/>
<polygon points="478.40,47.70 483.80,47.70 507.14,25.50 503.25,25.50" fill="#00009c"/>
<polygon points="483.80,47.70 507.14,25.50 507.14,30.20 483.80,53.90" fill="#0000f0"/>
<polygon points="478.40,47.70 483.80,47.70 483.80,53.90 478.40,53.90" fill="#0000d2"/>
<polygon points="496.50,47.70 505.50,47.70 527.83,25.50 521.35,25.50" fill="#9c00a6"/>
<polygon points="505.50,47.70 527.83,25.50 527.83,30.20 505.50,53.90" fill="#f010f0"/>
<polygon points="496.50,47.70 505.50,47.70 505.50,53.90 496.50,53.90" fill="#d808d8"/>
<polygon points="516.70,47.70 523.70,47.70 546.59,25.50 541.55,25.50" fill="#00a000"/>
<polygon points="523.70,47.70 546.59,25.50 546.59,30.20 523.70,53.90" fill="#10f010"/>
<polygon points="516.70,47.70 523.70,47.70 523.70,53.90 516.70,53.90" fill="#00d400"/>
<polygon points="535.60,47.70 541.00,47.70 564.34,25.50 560.45,25.50" fill="#00009c"/>
<polygon points="541.00,47.70 564.34,25.50 564.34,30.20 541.00,53.90" fill="#0000f0"/>
<polygon points="535.60,47.70 541.00,47.70 541.00,53.90 535.60,53.90" fill="#0000d2"/>
<polygon points="553.30,47.70 562.30,47.70 584.63,25.50 578.15,25.50" fill="#9c00a6"/>
<polygon points="562.30,47.70 584.63,25.50 584.63,30.20 562.30,53.90" fill="#f010f0"/>
<polygon points="553.30,47.70 562.30,47.70 562.30,53.90 553.30,53.90" fill="#d808d8"/>
<line x1="58.70" y1="483.50" x2="139.00" y2="433.50" stroke="#e3e3e3" stroke-width="0.80"/>
<line x1="58.70" y1="452.72" x2="139.00" y2="402.72" stroke="#e3e3e3" stroke-width="0.80"/>
<line x1="58.70" y1="421.94" x2="139.00" y2="371.94" stroke="#e3e3e3" stroke-width="0.80"/>
<line x1="58.70" y1="391.16" x2="139.00" y2="341.16" stroke="#e3e3e3" stroke-width="0.80"/>
<line x1="98.85" y1="458.50" x2="98.85" y2="356.93" stroke="#e3e3e3" stroke-width="0.80"/>
<line x1="139.00" y1="433.50" x2="139.00" y2="331.93" stroke="#e3e3e3" stroke-width="0.80"/>
<line x1="139.00" y1="433.50" x2="278.20" y2="462.70" stroke="#e3e3e3" stroke-width="0.80"/>
<line x1="139.00" y1="402.72" x2="278.20" y2="431.92" stroke="#e3e3e3" stroke-width="0.80"/>
<line x1="139.00" y1="371.94" x2="278.20" y2="401.14" stroke="#e3e3e3" stroke-width="0.80"/>
<line x1="139.00" y1="341.16" x2="278.20" y2="370.36" stroke="#e3e3e3" stroke-width="0.80"/>
<line x1="208.60" y1="448.10" x2="208.60" y2="346.53" stroke="#e3e3e3" stroke-width="0.80"/>
<line x1="278.20" y1="462.70" x2="278.20" y2="361.13" stroke="#e3e3e3" stroke-width="0.80"/>
<line x1="128.30" y1="498.10" x2="208.60" y2="448.10" stroke="#e3e3e3" stroke-width="0.80"/>
<line x1="98.85" y1="458.50" x2="238.05" y2="487.70" stroke="#e3e3e3" stroke-width="0.80"/>
<path d="M179.1,508.6 177.1,505.9 258.5,456.2 260.4,459.0 179.2,508.8 179.1,508.6Z" fill="#00009f"/>
<path d="M178.4,507.7 175.7,504.1 257.3,454.4 259.7,457.9 178.4,507.7Z" fill="#0000af"/>
<path d="M177.0,505.9 174.2,502.3 256.1,452.6 258.5,456.2 177.0,505.9Z" fill="#0000bf"/>
<path d="M175.6,504.1 172.7,500.5 254.8,450.9 257.3,454.4 175.6,504.1Z" fill="#0000cf"/>
<path d="M173.9,501.9 171.2,498.6 253.5,449.1 256.1,452.6 174.2,502.3 173.9,501.9Z" fill="#0000df"/>
<path d="M172.5,500.2 169.6,496.8 252.1,447.3 254.8,450.9 172.7,500.5 172.5,500.2Z" fill="#0000ef"/>
<path d="M171.1,498.5 168.0,495.0 250.6,445.4 253.5,449.1 171.2,498.6 171.1,498.5Z" fill="#0000ff"/>
<path d="M169.4,496.5 166.4,493.1 249.2,443.6 252.1,447.3 169.6,496.8 169.4,496.5Z" fill="#0010ff"/>
<path d="M168.0,494.9 164.6,491.2 247.6,441.8 250.6,445.4 168.0,494.9Z" fill="#0020ff"/>
<path d="M166.2,493.0 162.9,489.3 246.0,439.9 249.2,443.6 166.4,493.1 166.2,493.0Z" fill="#0030ff"/>
<path d="M164.5,491.1 161.0,487.4 244.3,438.0 247.6,441.8 164.6,491.2 164.5,491.1Z" fill="#0040ff"/>
<path d="M162.8,489.2 159.1,485.5 164.6,482.3 242.5,436.2 246.0,439.9 162.9,489.3 162.8,489.2Z" fill="#0050ff"/>
<path d="M161.0,487.4 157.2,483.6 240.7,434.3 244.3,438.0 161.0,487.4Z" fill="#0060ff"/>
<path d="M158.9,485.3 155.1,481.6 238.7,432.3 242.5,436.2 159.1,485.5 158.9,485.3Z" fill="#0070ff"/>
<path d="M157.3,483.5 157.2,483.6 153.0,479.7 159.3,476.0 236.6,430.4 240.7,434.3 157.3,483.5Z" fill="#0080ff"/>
<path d="M155.1,481.6 150.8,477.7 165.0,469.3 216.6,439.0 234.4,428.4 238.7,432.3 219.6,443.7 155.1,481.6Z" fill="#008fff"/>
<path d="M153.1,479.6 148.5,475.7 163.1,467.1 214.3,437.0 232.1,426.4 236.6,430.4 153.1,479.6Z" fill="#009fff"/>
<path d="M150.6,477.5 146.0,473.7 212.3,434.8 229.6,424.4 234.4,428.4 217.0,438.8 150.8,477.7 150.6,477.5Z" fill="#00afff"/>
<path d="M148.1,475.4 143.5,471.6 210.1,432.5 227.0,422.3 232.1,426.4 214.7,436.8 148.5,475.7 148.1,475.4Z" fill="#00bfff"/>
<path d="M146.4,473.4 146.0,473.7 140.8,469.5 207.3,430.4 224.2,420.2 229.6,424.4 212.3,434.8 146.4,473.4Z" fill="#00cfff"/>
<path d="M143.3,471.5 138.0,467.4 165.0,451.4 204.0,428.5 221.2,418.1 227.0,422.3 210.1,432.5 143.5,471.6 143.3,471.5Z" fill="#00dfff"/>
<path d="M140.5,469.3 134.9,465.3 161.5,449.5 200.9,426.3 218.0,415.9 224.2,420.2 207.3,430.4 140.8,469.5 140.5,469.3Z" fill="#00efff"/>
<path d="M137.7,467.2 131.7,463.1 158.3,447.3 197.7,424.1 214.6,413.6 221.2,418.1 204.0,428.5 165.0,451.4 138.0,467.4 137.7,467.2Z" fill="#00ffff"/>
<path d="M134.9,465.3 128.3,460.9 154.4,445.3 193.8,422.1 211.1,411.4 218.0,415.9 200.9,426.3 134.9,465.3Z" fill="#10ffef"/>
<path d="M131.4,462.9 124.7,458.6 150.4,443.3 189.9,420.1 207.5,409.1 214.6,413.6 195.2,425.6 158.3,447.3 131.7,463.1 131.4,462.9Z" fill="#20ffdf"/>
<path d="M128.3,460.8 120.8,456.3 128.3,451.8 185.8,418.1 194.8,412.6 203.8,406.8 211.1,411.4 193.4,422.4 128.3,460.8Z" fill="#30ffcf"/>
<path d="M124.5,458.5 116.7,453.9 121.6,450.9 182.0,415.8 191.0,410.3 200.0,404.5 207.5,409.1 198.0,415.2 188.6,420.9 150.4,443.3 124.7,458.6 124.5,458.5Z" fill="#40ffbf"/>
<path d="M120.6,456.2 112.2,451.4 132.0,439.9 177.7,413.7 186.7,408.2 196.1,402.2 203.8,406.8 194.3,412.9 185.4,418.3 143.7,442.7 120.8,456.3 120.6,456.2Z" fill="#50ffaf"/>
<path d="M116.5,453.8 107.5,448.9 126.2,438.1 173.2,411.6 182.3,406.1 192.1,399.8 200.0,404.5 190.6,410.6 181.2,416.3 137.5,441.5 116.7,453.9 116.5,453.8Z" fill="#60ff9f"/>
<path d="M111.9,451.3 102.5,446.4 120.1,436.4 169.0,409.2 178.1,403.7 188.0,397.5 196.1,402.2 185.9,408.7 176.4,414.4 132.4,439.6 112.2,451.4 111.9,451.3Z" fill="#70ff8f"/>
<path d="M107.4,448.9 97.3,443.8 114.7,434.0 164.2,407.0 173.9,401.3 183.8,395.1 192.1,399.8 182.3,406.1 173.2,411.6 107.4,448.9Z" fill="#80ff80"/>
<path d="M102.2,446.2 92.0,441.1 110.0,431.2 160.1,404.3 169.4,398.9 179.4,392.6 188.0,397.5 177.3,404.2 167.7,409.9 120.5,436.1 102.5,446.4 102.2,446.2Z" fill="#8fff70"/>
<path d="M97.0,443.6 86.6,438.5 106.2,427.9 155.5,401.8 164.9,396.4 174.9,390.2 183.8,395.1 173.0,401.8 163.3,407.5 115.1,433.8 97.3,443.8 97.0,443.6Z" fill="#9fff60"/>
<path d="M91.8,441.0 81.4,435.9 84.5,434.2 105.9,422.6 151.6,398.8 161.0,393.4 170.2,387.7 179.4,392.6 169.0,399.1 159.3,404.8 110.4,431.0 92.0,441.1 91.8,441.0Z" fill="#afff50"/>
<path d="M86.5,438.4 76.4,433.3 87.8,427.0 107.6,416.5 147.1,396.0 156.1,390.9 165.3,385.1 174.9,390.2 164.9,396.4 155.5,401.8 108.9,426.4 86.5,438.4Z" fill="#bfff40"/>
<path d="M81.3,435.8 71.7,430.8 85.2,423.3 99.9,415.3 143.0,393.0 151.9,387.8 160.2,382.5 170.2,387.7 160.6,393.7 151.2,399.0 109.1,421.0 94.7,428.6 81.4,435.9 81.3,435.8Z" fill="#cfff30"/>
<path d="M76.4,433.3 67.3,428.4 81.2,420.4 95.9,412.3 138.7,389.9 147.0,384.9 154.8,379.9 165.3,385.1 156.1,390.9 147.1,396.0 103.1,418.9 89.6,426.1 76.4,433.3Z" fill="#dfff20"/>
<path d="M71.6,430.7 63.1,426.0 77.4,417.6 92.5,409.1 133.8,387.0 142.0,382.0 149.2,377.2 160.2,382.5 151.9,387.8 143.0,393.0 101.2,414.6 85.6,423.0 71.7,430.8 71.6,430.7Z" fill="#efff10"/>
<path d="M67.1,428.2 59.2,423.6 73.2,415.2 88.4,406.4 128.4,384.3 136.3,379.3 143.2,374.4 154.8,379.9 147.0,384.9 138.2,390.1 98.1,411.1 81.8,420.1 67.3,428.4 67.1,428.2Z" fill="#ffff00"/>
<path d="M62.9,425.8 58.7,423.3 83.6,407.6 121.7,382.9 139.0,372.5 149.2,377.2 141.6,382.3 133.4,387.2 94.3,408.1 77.8,417.4 63.1,426.0 62.9,425.8Z" fill="#ffef00"/>
<path d="M59.0,423.5 58.7,423.3 84.0,407.3 119.3,384.4 127.4,379.4 136.6,373.9 139.0,372.5 143.2,374.4 136.3,379.3 128.0,384.6 90.1,405.4 74.0,414.7 59.2,423.6 59.0,423.5Z" fill="#ffdf00"/>
<line x1="58.70" y1="483.50" x2="58.70" y2="381.93" stroke="#7a7a7a" stroke-width="0.90"/>
<line x1="58.70" y1="483.50" x2="197.90" y2="512.70" stroke="#7a7a7a" stroke-width="0.90"/>
<line x1="197.90" y1="512.70" x2="278.20" y2="462.70" stroke="#7a7a7a" stroke-width="0.90"/>
<line x1="58.70" y1="483.50" x2="55.18" y2="482.76" stroke="#7a7a7a" stroke-width="0.90"/>
<line x1="58.70" y1="452.72" x2="55.18" y2="451.98" stroke="#7a7a7a" stroke-width="0.90"/>
<line x1="58.70" y1="421.94" x2="55.18" y2="421.20" stroke="#7a7a7a" stroke-width="0.90"/>
<line x1="58.70" y1="391.16" x2="55.18" y2="390.42" stroke="#7a7a7a" stroke-width="0.90"/>
<line x1="58.70" y1="483.50" x2="55.64" y2="485.40" stroke="#7a7a7a" stroke-width="0.90"/>
<line x1="128.30" y1="498.10" x2="125.24" y2="500.00" stroke="#7a7a7a" stroke-width="0.90"/>
<line x1="197.90" y1="512.70" x2="194.84" y2="514.60" stroke="#7a7a7a" stroke-width="0.90"/>
<line x1="197.90" y1="512.70" x2="201.42" y2="513.44" stroke="#7a7a7a" stroke-width="0.90"/>
<line x1="238.05" y1="487.70" x2="241.57" y2="488.44" stroke="#7a7a7a" stroke-width="0.90"/>
<line x1="278.20" y1="462.70" x2="281.72" y2="463.44" stroke="#7a7a7a" stroke-width="0.90"/>
<g fill="#262626"><text x="49.2" y="487.6" font-size="11.5" text-anchor="end" font-weight="normal" stroke="#262626" stroke-width="0.2">-45</text>
<text x="49.2" y="456.8" font-size="11.5" text-anchor="end" font-weight="normal" stroke="#262626" stroke-width="0.2">-35</text>
<text x="49.2" y="426.1" font-size="11.5" text-anchor="end" font-weight="normal" stroke="#262626" stroke-width="0.2">-25</text>
<text x="49.2" y="395.3" font-size="11.5" text-anchor="end" font-weight="normal" stroke="#262626" stroke-width="0.2">-15</text>
<text x="49.7" y="501.3" font-size="11.5" text-anchor="end" font-weight="normal" stroke="#262626" stroke-width="0.2">200</text>
<text x="119.3" y="515.9" font-size="11.5" text-anchor="end" font-weight="normal" stroke="#262626" stroke-width="0.2">100</text>
<text x="188.9" y="530.5" font-size="11.5" text-anchor="end" font-weight="normal" stroke="#262626" stroke-width="0.2">0</text>
<text x="206.5" y="527.8" font-size="11.5" text-anchor="start" font-weight="normal" stroke="#262626" stroke-width="0.2">800</text>
<text x="246.6" y="502.8" font-size="11.5" text-anchor="start" font-weight="normal" stroke="#262626" stroke-width="0.2">1200</text>
<text x="286.8" y="477.8" font-size="11.5" text-anchor="start" font-weight="normal" stroke="#262626" stroke-width="0.2">1600</text>
<text x="263.5" y="535.2" font-size="14.0" text-anchor="start" font-weight="normal" letter-spacing="0.3">a (nm)</text>
<text transform="translate(18.8,470.6) rotate(-90)" font-size="14.0" letter-spacing="0.5">I<tspan font-size="11.0" dy="6.6" letter-spacing="0.25">SL lobe</tspan><tspan dy="-6.6" dx="-1.8"> (dB)</tspan></text>
<text transform="translate(42.2,526.7) rotate(10)" font-size="14.0" font-style="italic" letter-spacing="0.5"><tspan font-style="normal" font-size="15.5">&#916;</tspan><tspan dx="0.2">w</tspan><tspan font-size="11.0" dy="6.5">span</tspan><tspan dy="-6.5" dx="-0.8"> (nm)</tspan></text></g>
<text x="19.8" y="325.5" font-size="24.0" text-anchor="start" font-weight="bold" fill="#000">(c)</text>
<text x="174.3" y="365.5" font-size="24.0" text-anchor="start" font-weight="bold" fill="#000">SC5a</text>
<polygon points="75.90,324.50 85.00,324.50 107.75,302.30 101.20,302.30" fill="#9c00a6"/>
<polygon points="85.00,324.50 107.75,302.30 107.75,307.00 85.00,330.70" fill="#f010f0"/>
<polygon points="75.90,324.50 85.00,324.50 85.00,330.70 75.90,330.70" fill="#d808d8"/>
<polygon points="92.50,324.50 100.70,324.50 123.70,302.30 117.80,302.30" fill="#a44810"/>
<polygon points="100.70,324.50 123.70,302.30 123.70,307.00 100.70,330.70" fill="#f06810"/>
<polygon points="92.50,324.50 100.70,324.50 100.70,330.70 92.50,330.70" fill="#d45c10"/>
<polygon points="108.30,324.50 114.30,324.50 137.92,302.30 133.60,302.30" fill="#00a000"/>
<polygon points="114.30,324.50 137.92,302.30 137.92,307.00 114.30,330.70" fill="#10f010"/>
<polygon points="108.30,324.50 114.30,324.50 114.30,330.70 108.30,330.70" fill="#00d400"/>
<polygon points="122.80,324.50 129.80,324.50 153.14,302.30 148.10,302.30" fill="#a0a000"/>
<polygon points="129.80,324.50 153.14,302.30 153.14,307.00 129.80,330.70" fill="#e8e800"/>
<polygon points="122.80,324.50 129.80,324.50 129.80,330.70 122.80,330.70" fill="#d0d000"/>
<polygon points="138.30,324.50 144.80,324.50 168.28,302.30 163.60,302.30" fill="#00009c"/>
<polygon points="144.80,324.50 168.28,302.30 168.28,307.00 144.80,330.70" fill="#0000f0"/>
<polygon points="138.30,324.50 144.80,324.50 144.80,330.70 138.30,330.70" fill="#0000d2"/>
<polygon points="153.10,324.50 162.20,324.50 184.95,302.30 178.40,302.30" fill="#9c00a6"/>
<polygon points="162.20,324.50 184.95,302.30 184.95,307.00 162.20,330.70" fill="#f010f0"/>
<polygon points="153.10,324.50 162.20,324.50 162.20,330.70 153.10,330.70" fill="#d808d8"/>
<polygon points="169.70,324.50 177.90,324.50 200.90,302.30 195.00,302.30" fill="#a44810"/>
<polygon points="177.90,324.50 200.90,302.30 200.90,307.00 177.90,330.70" fill="#f06810"/>
<polygon points="169.70,324.50 177.90,324.50 177.90,330.70 169.70,330.70" fill="#d45c10"/>
<polygon points="185.90,324.50 191.90,324.50 215.52,302.30 211.20,302.30" fill="#00a000"/>
<polygon points="191.90,324.50 215.52,302.30 215.52,307.00 191.90,330.70" fill="#10f010"/>
<polygon points="185.90,324.50 191.90,324.50 191.90,330.70 185.90,330.70" fill="#00d400"/>
<polygon points="200.40,324.50 207.40,324.50 230.74,302.30 225.70,302.30" fill="#a0a000"/>
<polygon points="207.40,324.50 230.74,302.30 230.74,307.00 207.40,330.70" fill="#e8e800"/>
<polygon points="200.40,324.50 207.40,324.50 207.40,330.70 200.40,330.70" fill="#d0d000"/>
<polygon points="215.50,324.50 222.00,324.50 245.48,302.30 240.80,302.30" fill="#00009c"/>
<polygon points="222.00,324.50 245.48,302.30 245.48,307.00 222.00,330.70" fill="#0000f0"/>
<polygon points="215.50,324.50 222.00,324.50 222.00,330.70 215.50,330.70" fill="#0000d2"/>
<polygon points="230.70,324.50 239.80,324.50 262.55,302.30 256.00,302.30" fill="#9c00a6"/>
<polygon points="239.80,324.50 262.55,302.30 262.55,307.00 239.80,330.70" fill="#f010f0"/>
<polygon points="230.70,324.50 239.80,324.50 239.80,330.70 230.70,330.70" fill="#d808d8"/>
<line x1="375.50" y1="483.60" x2="455.80" y2="433.60" stroke="#e3e3e3" stroke-width="0.80"/>
<line x1="375.50" y1="452.82" x2="455.80" y2="402.82" stroke="#e3e3e3" stroke-width="0.80"/>
<line x1="375.50" y1="422.04" x2="455.80" y2="372.04" stroke="#e3e3e3" stroke-width="0.80"/>
<line x1="375.50" y1="391.26" x2="455.80" y2="341.26" stroke="#e3e3e3" stroke-width="0.80"/>
<line x1="415.65" y1="458.60" x2="415.65" y2="357.03" stroke="#e3e3e3" stroke-width="0.80"/>
<line x1="455.80" y1="433.60" x2="455.80" y2="332.03" stroke="#e3e3e3" stroke-width="0.80"/>
<line x1="455.80" y1="433.60" x2="595.00" y2="462.80" stroke="#e3e3e3" stroke-width="0.80"/>
<line x1="455.80" y1="402.82" x2="595.00" y2="432.02" stroke="#e3e3e3" stroke-width="0.80"/>
<line x1="455.80" y1="372.04" x2="595.00" y2="401.24" stroke="#e3e3e3" stroke-width="0.80"/>
<line x1="455.80" y1="341.26" x2="595.00" y2="370.46" stroke="#e3e3e3" stroke-width="0.80"/>
<line x1="525.40" y1="448.20" x2="525.40" y2="346.63" stroke="#e3e3e3" stroke-width="0.80"/>
<line x1="595.00" y1="462.80" x2="595.00" y2="361.23" stroke="#e3e3e3" stroke-width="0.80"/>
<line x1="445.10" y1="498.20" x2="525.40" y2="448.20" stroke="#e3e3e3" stroke-width="0.80"/>
<line x1="415.65" y1="458.60" x2="554.85" y2="487.80" stroke="#e3e3e3" stroke-width="0.80"/>
<path d="M483.4,506.1 479.9,502.5 563.0,453.1 566.3,456.8 483.5,506.3 483.4,506.1Z" fill="#0000af"/>
<path d="M481.6,504.3 478.0,500.6 485.9,495.9 561.3,451.2 564.7,455.0 481.8,504.4 481.6,504.3Z" fill="#0000bf"/>
<path d="M479.9,502.5 476.0,498.7 482.2,495.0 559.5,449.3 563.0,453.1 479.9,502.5Z" fill="#0000cf"/>
<path d="M477.8,500.4 474.0,496.7 485.2,490.1 557.6,447.4 561.3,451.2 478.0,500.6 477.8,500.4Z" fill="#0000df"/>
<path d="M475.7,498.4 471.9,494.8 555.7,445.5 559.5,449.3 476.0,498.7 475.7,498.4Z" fill="#0000ef"/>
<path d="M474.0,496.7 469.7,492.8 479.3,487.1 553.7,443.6 557.6,447.4 474.0,496.7Z" fill="#0000ff"/>
<path d="M472.2,494.6 471.9,494.8 467.5,490.8 477.8,484.6 551.6,441.6 555.7,445.5 472.2,494.6Z" fill="#0010ff"/>
<path d="M469.5,492.6 465.1,488.8 478.0,481.2 549.4,439.7 553.7,443.6 469.7,492.8 469.5,492.6Z" fill="#0020ff"/>
<path d="M467.4,490.7 462.7,486.8 474.3,479.9 547.1,437.7 551.6,441.6 467.4,490.7Z" fill="#0030ff"/>
<path d="M464.9,488.7 460.1,484.7 472.5,477.3 544.8,435.6 549.4,439.7 477.1,481.6 465.1,488.8 464.9,488.7Z" fill="#0040ff"/>
<path d="M462.5,486.6 457.5,482.7 470.3,475.0 542.3,433.6 547.1,437.7 475.1,479.4 462.7,486.8 462.5,486.6Z" fill="#0050ff"/>
<path d="M460.1,484.7 454.7,480.6 467.1,473.1 539.6,431.5 544.8,435.6 473.4,476.8 460.1,484.7Z" fill="#0060ff"/>
<path d="M457.3,482.5 451.8,478.4 465.0,470.5 536.8,429.4 542.3,433.6 470.3,475.0 457.5,482.7 457.3,482.5Z" fill="#0070ff"/>
<path d="M454.5,480.4 448.8,476.3 462.3,468.1 533.9,427.3 539.6,431.5 467.5,472.9 454.7,480.6 454.5,480.4Z" fill="#0080ff"/>
<path d="M451.7,478.4 445.6,474.1 452.7,469.6 458.6,466.1 530.7,425.1 536.8,429.4 465.4,470.3 451.8,478.4 451.7,478.4Z" fill="#008fff"/>
<path d="M448.6,476.2 442.2,471.9 449.7,467.1 455.5,463.6 527.3,422.9 533.9,427.3 462.7,467.9 456.4,471.5 448.8,476.3 448.6,476.2Z" fill="#009fff"/>
<path d="M445.4,474.0 438.6,469.6 446.0,464.8 451.8,461.4 523.7,420.6 530.7,425.1 459.0,465.9 453.1,469.3 445.6,474.1 445.4,474.0Z" fill="#00afff"/>
<path d="M442.0,471.7 434.8,467.3 442.1,462.5 448.3,458.8 519.9,418.3 527.3,422.9 455.9,463.4 449.7,467.1 442.2,471.9 442.0,471.7Z" fill="#00bfff"/>
<path d="M438.5,469.5 430.9,465.0 438.0,460.1 444.2,456.4 515.7,415.9 523.7,420.6 451.8,461.4 446.0,464.8 438.6,469.6 438.5,469.5Z" fill="#00cfff"/>
<path d="M434.7,467.2 426.7,462.6 434.0,457.4 440.2,453.7 511.2,413.5 519.9,418.3 447.9,459.0 442.1,462.5 434.8,467.3 434.7,467.2Z" fill="#00dfff"/>
<path d="M430.8,464.9 422.2,460.1 429.0,455.2 435.1,451.5 506.4,410.9 515.7,415.9 443.7,456.6 438.0,460.1 430.8,464.9Z" fill="#00efff"/>
<path d="M426.7,462.6 417.6,457.6 424.2,452.7 430.2,448.9 501.2,408.3 511.2,413.5 438.9,454.4 433.3,457.9 426.7,462.6Z" fill="#00ffff"/>
<path d="M422.1,460.1 412.7,455.1 419.5,449.8 425.5,446.1 495.8,405.7 506.4,410.9 434.7,451.7 429.4,454.9 422.6,459.9 422.1,460.1Z" fill="#10ffef"/>
<path d="M417.3,457.5 407.7,452.5 414.2,447.2 420.2,443.4 431.0,437.4 447.3,427.8 461.1,420.0 490.3,403.0 501.2,408.3 429.7,449.2 424.2,452.7 417.6,457.6 417.3,457.5Z" fill="#20ffdf"/>
<path d="M412.4,454.9 402.5,449.9 408.6,444.8 414.4,441.1 425.6,434.7 441.9,425.1 455.7,417.3 484.7,400.3 495.8,405.7 424.6,446.6 419.1,450.1 412.7,455.1 412.4,454.9Z" fill="#30ffcf"/>
<path d="M407.5,452.4 397.3,447.3 403.3,442.2 408.6,438.7 420.2,432.1 436.5,422.5 450.3,414.7 479.2,397.7 490.3,403.0 461.1,420.0 447.3,427.8 431.4,437.1 418.9,444.2 414.2,447.2 408.0,452.3 407.7,452.5 407.5,452.4Z" fill="#40ffbf"/>
<path d="M402.3,449.8 392.2,444.7 397.7,439.9 400.2,438.1 403.0,436.3 415.4,429.2 431.3,419.8 445.1,412.0 474.0,395.0 484.7,400.3 455.7,417.3 441.9,425.1 426.0,434.5 413.6,441.5 408.9,444.6 402.9,449.7 402.5,449.9 402.3,449.8Z" fill="#50ffaf"/>
<path d="M397.1,447.2 387.1,442.1 392.6,437.3 397.5,434.0 410.4,426.7 426.3,417.3 440.1,409.5 469.1,392.5 479.2,397.7 450.3,414.7 436.5,422.5 420.7,431.8 408.2,438.9 403.6,442.0 401.0,444.1 397.3,447.3 397.1,447.2Z" fill="#60ff9f"/>
<path d="M391.9,444.6 382.2,439.6 387.7,434.7 392.6,431.4 405.2,424.4 421.2,415.0 435.5,407.0 464.5,390.0 474.0,395.0 445.1,412.0 431.3,419.8 415.4,429.2 403.0,436.3 398.4,439.3 395.7,441.5 392.2,444.7 391.9,444.6Z" fill="#70ff8f"/>
<path d="M387.0,442.1 377.5,437.1 382.7,432.5 387.6,429.2 400.7,421.9 416.7,412.6 431.1,404.6 460.2,387.6 469.1,392.5 440.1,409.5 426.3,417.3 410.4,426.7 397.5,434.0 392.9,437.0 390.4,439.2 387.4,441.9 387.0,442.1Z" fill="#80ff80"/>
<path d="M382.1,439.6 375.5,436.0 382.7,432.1 387.9,428.9 449.4,389.1 456.2,385.3 464.5,390.0 435.5,407.0 421.2,415.0 405.2,424.4 392.6,431.4 387.7,434.7 382.1,439.6Z" fill="#8fff70"/>
<path d="M377.2,437.0 375.5,436.0 382.7,432.1 387.9,428.9 455.8,385.0 460.2,387.6 431.1,404.6 416.7,412.6 400.7,421.9 388.0,428.9 383.4,432.0 381.1,433.8 377.5,437.1 377.2,437.0Z" fill="#9fff60"/>
<path d="M449.4,389.1 455.8,385.0 456.2,385.3 449.4,389.1Z" fill="#afff50"/>
<line x1="375.50" y1="483.60" x2="375.50" y2="382.03" stroke="#7a7a7a" stroke-width="0.90"/>
<line x1="375.50" y1="483.60" x2="514.70" y2="512.80" stroke="#7a7a7a" stroke-width="0.90"/>
<line x1="514.70" y1="512.80" x2="595.00" y2="462.80" stroke="#7a7a7a" stroke-width="0.90"/>
<line x1="375.50" y1="483.60" x2="371.98" y2="482.86" stroke="#7a7a7a" stroke-width="0.90"/>
<line x1="375.50" y1="452.82" x2="371.98" y2="452.08" stroke="#7a7a7a" stroke-width="0.90"/>
<line x1="375.50" y1="422.04" x2="371.98" y2="421.30" stroke="#7a7a7a" stroke-width="0.90"/>
<line x1="375.50" y1="391.26" x2="371.98" y2="390.52" stroke="#7a7a7a" stroke-width="0.90"/>
<line x1="375.50" y1="483.60" x2="372.44" y2="485.50" stroke="#7a7a7a" stroke-width="0.90"/>
<line x1="445.10" y1="498.20" x2="442.04" y2="500.10" stroke="#7a7a7a" stroke-width="0.90"/>
<line x1="514.70" y1="512.80" x2="511.64" y2="514.70" stroke="#7a7a7a" stroke-width="0.90"/>
<line x1="514.70" y1="512.80" x2="518.22" y2="513.54" stroke="#7a7a7a" stroke-width="0.90"/>
<line x1="554.85" y1="487.80" x2="558.37" y2="488.54" stroke="#7a7a7a" stroke-width="0.90"/>
<line x1="595.00" y1="462.80" x2="598.52" y2="463.54" stroke="#7a7a7a" stroke-width="0.90"/>
<g fill="#262626"><text x="366.0" y="487.7" font-size="11.5" text-anchor="end" font-weight="normal" stroke="#262626" stroke-width="0.2">-45</text>
<text x="366.0" y="456.9" font-size="11.5" text-anchor="end" font-weight="normal" stroke="#262626" stroke-width="0.2">-35</text>
<text x="366.0" y="426.2" font-size="11.5" text-anchor="end" font-weight="normal" stroke="#262626" stroke-width="0.2">-25</text>
<text x="366.0" y="395.4" font-size="11.5" text-anchor="end" font-weight="normal" stroke="#262626" stroke-width="0.2">-15</text>
<text x="366.5" y="501.4" font-size="11.5" text-anchor="end" font-weight="normal" stroke="#262626" stroke-width="0.2">200</text>
<text x="436.1" y="516.0" font-size="11.5" text-anchor="end" font-weight="normal" stroke="#262626" stroke-width="0.2">100</text>
<text x="505.7" y="530.6" font-size="11.5" text-anchor="end" font-weight="normal" stroke="#262626" stroke-width="0.2">0</text>
<text x="523.3" y="527.9" font-size="11.5" text-anchor="start" font-weight="normal" stroke="#262626" stroke-width="0.2">800</text>
<text x="563.5" y="502.9" font-size="11.5" text-anchor="start" font-weight="normal" stroke="#262626" stroke-width="0.2">1200</text>
<text x="603.6" y="477.9" font-size="11.5" text-anchor="start" font-weight="normal" stroke="#262626" stroke-width="0.2">1600</text>
<text x="580.3" y="535.3" font-size="14.0" text-anchor="start" font-weight="normal" letter-spacing="0.3">a (nm)</text>
<text transform="translate(335.6,470.7) rotate(-90)" font-size="14.0" letter-spacing="0.5">I<tspan font-size="11.0" dy="6.6" letter-spacing="0.25">SL lobe</tspan><tspan dy="-6.6" dx="-1.8"> (dB)</tspan></text>
<text transform="translate(359.0,526.8) rotate(10)" font-size="14.0" font-style="italic" letter-spacing="0.5"><tspan font-style="normal" font-size="15.5">&#916;</tspan><tspan dx="0.2">w</tspan><tspan font-size="11.0" dy="6.5">span</tspan><tspan dy="-6.5" dx="-0.8"> (nm)</tspan></text></g>
<text x="341.8" y="320.0" font-size="24.0" text-anchor="start" font-weight="bold" fill="#000">(d)</text>
<text x="490.9" y="365.5" font-size="24.0" text-anchor="start" font-weight="bold" fill="#000">SC5b</text>
<polygon points="388.40,323.30 397.50,323.30 420.00,301.10 413.45,301.10" fill="#9c00a6"/>
<polygon points="397.50,323.30 420.00,301.10 420.00,305.80 397.50,329.50" fill="#f010f0"/>
<polygon points="388.40,323.30 397.50,323.30 397.50,329.50 388.40,329.50" fill="#d808d8"/>
<polygon points="404.10,323.30 412.20,323.30 434.98,301.10 429.15,301.10" fill="#00a000"/>
<polygon points="412.20,323.30 434.98,301.10 434.98,305.80 412.20,329.50" fill="#10f010"/>
<polygon points="404.10,323.30 412.20,323.30 412.20,329.50 404.10,329.50" fill="#00d400"/>
<polygon points="419.90,323.30 426.00,323.30 449.34,301.10 444.95,301.10" fill="#00009c"/>
<polygon points="426.00,323.30 449.34,301.10 449.34,305.80 426.00,329.50" fill="#0000f0"/>
<polygon points="419.90,323.30 426.00,323.30 426.00,329.50 419.90,329.50" fill="#0000d2"/>
<polygon points="435.10,323.30 443.00,323.30 465.84,301.10 460.15,301.10" fill="#a44810"/>
<polygon points="443.00,323.30 465.84,301.10 465.84,305.80 443.00,329.50" fill="#f06810"/>
<polygon points="435.10,323.30 443.00,323.30 443.00,329.50 435.10,329.50" fill="#d45c10"/>
<polygon points="450.60,323.30 457.70,323.30 480.76,301.10 475.65,301.10" fill="#a8a474"/>
<polygon points="457.70,323.30 480.76,301.10 480.76,305.80 457.70,329.50" fill="#eaeaa4"/>
<polygon points="450.60,323.30 457.70,323.30 457.70,329.50 450.60,329.50" fill="#d4d290"/>
<polygon points="465.40,323.30 474.50,323.30 497.00,301.10 490.45,301.10" fill="#9c00a6"/>
<polygon points="474.50,323.30 497.00,301.10 497.00,305.80 474.50,329.50" fill="#f010f0"/>
<polygon points="465.40,323.30 474.50,323.30 474.50,329.50 465.40,329.50" fill="#d808d8"/>
<polygon points="481.10,323.30 489.20,323.30 511.98,301.10 506.15,301.10" fill="#00a000"/>
<polygon points="489.20,323.30 511.98,301.10 511.98,305.80 489.20,329.50" fill="#10f010"/>
<polygon points="481.10,323.30 489.20,323.30 489.20,329.50 481.10,329.50" fill="#00d400"/>
<polygon points="497.00,323.30 503.10,323.30 526.44,301.10 522.05,301.10" fill="#00009c"/>
<polygon points="503.10,323.30 526.44,301.10 526.44,305.80 503.10,329.50" fill="#0000f0"/>
<polygon points="497.00,323.30 503.10,323.30 503.10,329.50 497.00,329.50" fill="#0000d2"/>
<polygon points="512.50,323.30 520.40,323.30 543.24,301.10 537.55,301.10" fill="#a44810"/>
<polygon points="520.40,323.30 543.24,301.10 543.24,305.80 520.40,329.50" fill="#f06810"/>
<polygon points="512.50,323.30 520.40,323.30 520.40,329.50 512.50,329.50" fill="#d45c10"/>
<polygon points="527.70,323.30 534.80,323.30 557.86,301.10 552.75,301.10" fill="#a8a474"/>
<polygon points="534.80,323.30 557.86,301.10 557.86,305.80 534.80,329.50" fill="#eaeaa4"/>
<polygon points="527.70,323.30 534.80,323.30 534.80,329.50 527.70,329.50" fill="#d4d290"/>
<polygon points="542.40,323.30 551.50,323.30 574.00,301.10 567.45,301.10" fill="#9c00a6"/>
<polygon points="551.50,323.30 574.00,301.10 574.00,305.80 551.50,329.50" fill="#f010f0"/>
<polygon points="542.40,323.30 551.50,323.30 551.50,329.50 542.40,329.50" fill="#d808d8"/>
</svg>
</body></html>
